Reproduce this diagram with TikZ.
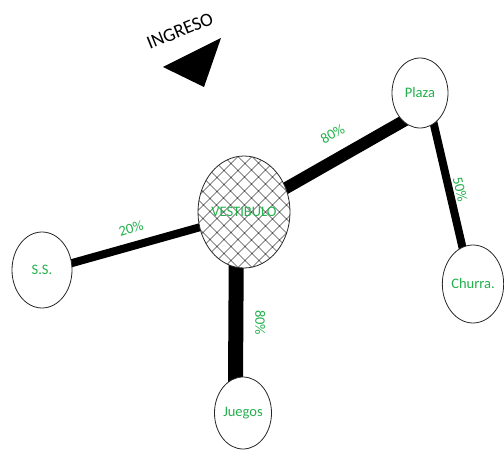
\documentclass[tikz,border=0pt]{standalone}
\usepackage{fontspec}
\setmainfont{Carlito}
\usetikzlibrary{shapes.geometric,patterns.meta,backgrounds}
\definecolor{paintgreen}{RGB}{34,177,76}
\tikzset{
  room/.style={ellipse, draw=black!85, line width=0.8pt, fill=white, inner sep=0pt,
    text=paintgreen, font=\fontsize{14.5}{17}\selectfont},
  flow/.style={line width=#1, black, shorten <=-4pt, shorten >=-4pt},
  pct/.style={text=paintgreen, font=\fontsize{14.5}{17}\selectfont, anchor=south, inner sep=#1},
}
\begin{document}
\begin{tikzpicture}[x=1pt,y=-1pt]
    \useasboundingbox (0,0) rectangle (504,457);
    % entrance
    \node[rotate=22, font=\fontsize{19}{22}\selectfont] (ingreso) at (180,31) {INGRESO};
    \fill (163,67) -- (221,38) -- (204,87) -- cycle;
    % rooms
    \node[room, minimum width=92pt, minimum height=112pt, preaction={fill=white},
      pattern={Hatch[angle=45,distance=10.5pt,line width=0.6pt]}] (vest) at (244,212) {VESTIBULO};
    \node[room, minimum width=56pt, minimum height=70pt] (plaza) at (420,93) {Plaza};
    \node[room, minimum width=58pt, minimum height=78pt] (churra) at (473,284) {Churra.};
    \node[room, minimum width=60pt, minimum height=76pt] (ss) at (42,270) {S.S.};
    \node[room, minimum width=57pt, minimum height=72pt] (juegos) at (243,413) {Juegos};
    % flows
    \begin{scope}[on background layer]
        \draw[flow=12pt] (vest) -- node[pct=13pt, sloped] {80\%} (plaza.239);
        \draw[flow=8pt] (plaza.294) -- node[pct=2pt, sloped, pos=0.55] {50\%} (churra.106);
        \draw[flow=8pt] (ss.13) -- node[pct=8pt, sloped] {20\%} (vest.199);
        \draw[flow=15pt] (vest.262) -- node[pct=12pt, rotate=-90] {80\%} (juegos.102);
    \end{scope}
\end{tikzpicture}
\end{document}
